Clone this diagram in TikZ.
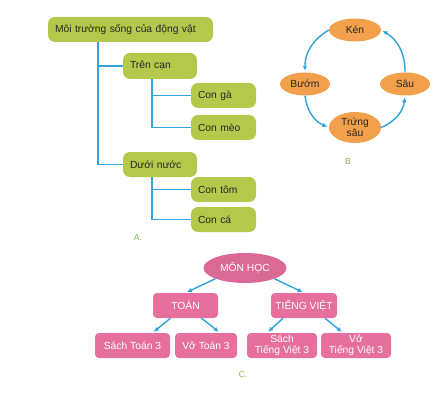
\documentclass[tikz,border=0pt]{standalone}
\usepackage{fontspec}
\setmainfont{Liberation Sans}
\usetikzlibrary{arrows.meta,shapes.geometric}
\definecolor{mtgreen}{HTML}{B4C94B}
\definecolor{mtblue}{HTML}{2EA3DC}
\definecolor{mtorange}{HTML}{F3A04C}
\definecolor{mtpink}{HTML}{E66F9D}
\definecolor{mtlabel}{HTML}{7FB24A}

\begin{document}
\begin{tikzpicture}[x=1pt,y=1pt,
  gbox/.style={fill=mtgreen,rounded corners=7pt,minimum height=25pt,inner xsep=7pt,
               align=left,font=\fontsize{10.3}{12}\selectfont,text=black!85},
  obox/.style={ellipse,fill=mtorange,inner sep=0pt,minimum height=23pt,minimum width=50pt,
               align=center,font=\fontsize{10.3}{11.5}\selectfont,text=black!85},
  pbox/.style={fill=mtpink,rounded corners=4pt,minimum height=25pt,inner sep=1pt,
               align=center,text=white,font=\fontsize{10.3}{11}\selectfont},
  tline/.style={mtblue,line width=1.8pt},
  cyc/.style={mtblue,line width=1.4pt,-{Latex[length=5pt,width=4.5pt]},shorten >=1.5pt},
  lbl/.style={text=mtlabel,font=\fontsize{8.5}{9}\selectfont}]
  \useasboundingbox (0,0) rectangle (446,394);
  % A: tree of habitats
  \node[gbox,text width=151pt] (main) at (130.5,364.5) {Môi trường sống của động vật};
  \node[gbox,text width=60pt,minimum height=26pt] (tren) at (160,328) {Trên cạn};
  \node[gbox,text width=51pt] (ga) at (223.5,298.5) {Con gà};
  \node[gbox,text width=51pt] (meo) at (223.5,266.5) {Con mèo};
  \node[gbox,text width=60pt] (duoi) at (160,229.5) {Dưới nước};
  \node[gbox,text width=51pt] (tom) at (223.5,204.5) {Con tôm};
  \node[gbox,text width=51pt] (ca) at (223.5,174.5) {Con cá};
  \node[lbl] (la) at (138,156) {A.};
  \draw[tline] ([xshift=50pt]main.south west) |- (tren.west);
  \draw[tline] ([xshift=50pt]main.south west) |- (duoi.west);
  \draw[tline] ([xshift=29pt]tren.south west) |- (ga.west);
  \draw[tline] ([xshift=29pt]tren.south west) |- (meo.west);
  \draw[tline] ([xshift=29pt]duoi.south west) |- (tom.west);
  \draw[tline] ([xshift=29pt]duoi.south west) |- (ca.west);
  % B: life cycle
  \node[obox,minimum width=52pt] (ken) at (355,364) {Kén};
  \node[obox] (buom) at (305,310) {Bướm};
  \node[obox] (sau) at (405,310) {Sâu};
  \node[obox,minimum width=52pt,minimum height=31pt] (trung) at (355,266.5) {Trứng\\sâu};
  \node[lbl] (lb) at (348,232) {B};
  \draw[cyc] (ken.west) to[bend right=30] (buom.north);
  \draw[cyc] (buom.south) to[bend right=30] (trung.west);
  \draw[cyc] (trung.east) to[bend right=30] (sau.south);
  \draw[cyc] (sau.north) to[bend right=30] (ken.east);
  % C: subjects
  \node[ellipse,fill=mtpink!95!black,text=white,inner sep=0pt,minimum width=83pt,minimum height=30pt,
        font=\fontsize{10.3}{11}\selectfont] (mon) at (245,126) {MÔN HỌC};
  \node[pbox,minimum width=65pt] (toan) at (185.5,88.5) {TOÁN};
  \node[pbox,minimum width=66pt] (tv) at (304,88.5) {TIẾNG VIỆT};
  \node[pbox,minimum width=75pt] (stoan) at (132.5,48.5) {Sách Toán 3};
  \node[pbox,minimum width=62pt] (vtoan) at (206,48.5) {Vở Toán 3};
  \node[pbox,minimum width=70pt] (stv) at (282,48.5) {Sách\\Tiếng Việt 3};
  \node[pbox,minimum width=70pt] (vtv) at (356,48.5) {Vở\\Tiếng Việt 3};
  \node[lbl] (lc) at (243,19) {C.};
  \draw[cyc] (mon.200) -- (toan.north);
  \draw[cyc] (mon.-20) -- (tv.north);
  \draw[cyc] ([xshift=-15pt]toan.south) -- ([xshift=20pt]stoan.north);
  \draw[cyc] ([xshift=16pt]toan.south) -- ([xshift=14pt]vtoan.north);
  \draw[cyc] ([xshift=-21pt]tv.south) -- ([xshift=-15pt]stv.north);
  \draw[cyc] ([xshift=21pt]tv.south) -- ([xshift=-13pt]vtv.north);
\end{tikzpicture}
\end{document}
